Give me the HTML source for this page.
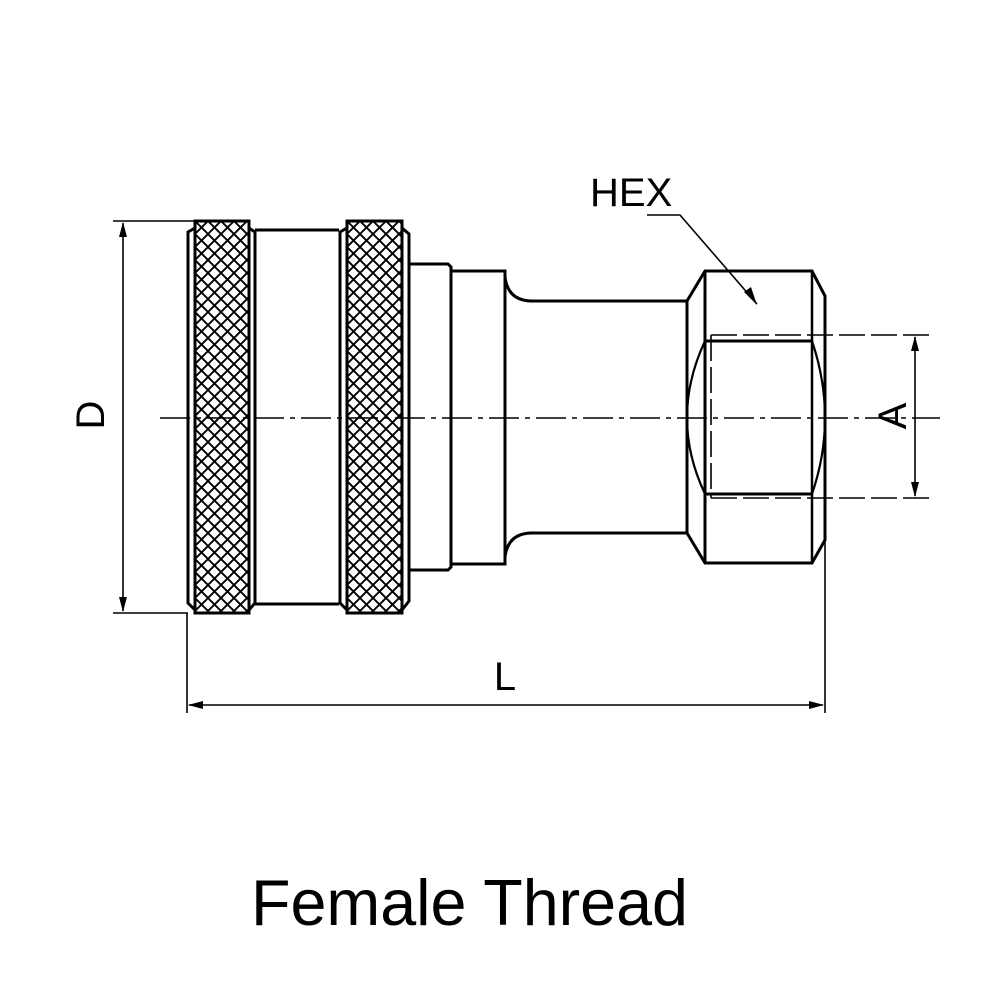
<!DOCTYPE html>
<html><head><meta charset="utf-8"><style>html,body{margin:0;padding:0;background:#fff}svg{display:block}</style></head>
<body>
<svg width="1000" height="1000" viewBox="0 0 1000 1000" xmlns="http://www.w3.org/2000/svg" font-family="Liberation Sans, Arial, sans-serif">
<defs>
<pattern id="kn" x="195" y="221" width="13" height="13" patternUnits="userSpaceOnUse">
<path d="M-1,-1 L14,14 M14,-1 L-1,14" stroke="#000" stroke-width="1.9"/>
</pattern>
<pattern id="kn2" x="347" y="221" width="13" height="13" patternUnits="userSpaceOnUse">
<path d="M-1,-1 L14,14 M14,-1 L-1,14" stroke="#000" stroke-width="1.9"/>
</pattern>
</defs>
<g fill="none" stroke="#000" stroke-width="3">
<rect x="195" y="221" width="54" height="392" fill="url(#kn)"/>
<path d="M195,228 L188,232 L188,603 L195,610"/>
<path d="M249,228 L255,232 L255,603 L249,610"/>
<path d="M255,230 L339,230 M255,604 L339,604"/>
<rect x="347" y="221" width="55" height="392" fill="url(#kn2)"/>
<path d="M347,228 L340,232 L340,603 L347,610"/>
<path d="M402,228 L409,234 L409,601 L402,610"/>
<path d="M409,264 L448,264 L451,267 L451,567 L448,570 L409,570"/>
<path d="M451,271 L505,271 L505,564 L451,564"/>
<path d="M505,277 Q508,301 532,301 L687,301"/>
<path d="M505,557 Q508,533 532,533 L687,533"/>
<line x1="687" y1="301" x2="687" y2="533"/>
<path d="M687,301 L705,271 L812,271 L825,296 L825,540 L812,563 L705,563 L687,533"/>
<line x1="705" y1="271" x2="705" y2="563"/>
<line x1="812" y1="271" x2="812" y2="563" stroke-width="2.5"/>
<path d="M705,341 L812,341 M705,494 L812,494"/>
<path d="M705,341 Q669,418 705,494 M812,341 Q838,418 812,494" stroke-width="2.2"/>
</g>
<g fill="none" stroke="#000" stroke-width="1.6">
<path d="M711,335 L930,335 M711,498 L930,498" stroke-dasharray="26,6"/>
<path d="M711,335 L711,498" stroke-dasharray="26,6"/>
<path d="M825,540 L825,713"/>
<line x1="160" y1="418" x2="940" y2="418" stroke-dasharray="30,6,5,6"/>
<path d="M113,221 L195,221 M113,613 L188,613 M123,223 L123,611"/>
<path d="M187,613 L187,713 M189,705 L823,705"/>
<path d="M915,337 L915,496"/>
<path d="M647,215 L680,215 L757,304"/>
</g>
<g fill="#000">
<path d="M123,222 L119,237 L127,237Z"/>
<path d="M123,612 L119,597 L127,597Z"/>
<path d="M188,705 L203,701 L203,709Z"/>
<path d="M824,705 L809,701 L809,709Z"/>
<path d="M915,336 L911,351 L919,351Z"/>
<path d="M915,497 L911,482 L919,482Z"/>
<path d="M757,305 L744,292 L751,287Z"/>
</g>
<g font-size="40" fill="#000">
<text x="590" y="206">HEX</text>
<text x="505" y="690" text-anchor="middle">L</text>
<text transform="translate(104,415) rotate(-90)" text-anchor="middle">D</text>
<text transform="translate(906,416) rotate(-90)" text-anchor="middle">A</text>
<text x="251" y="925" font-size="65" textLength="437" lengthAdjust="spacingAndGlyphs">Female Thread</text>
</g>
</svg>
</body></html>
